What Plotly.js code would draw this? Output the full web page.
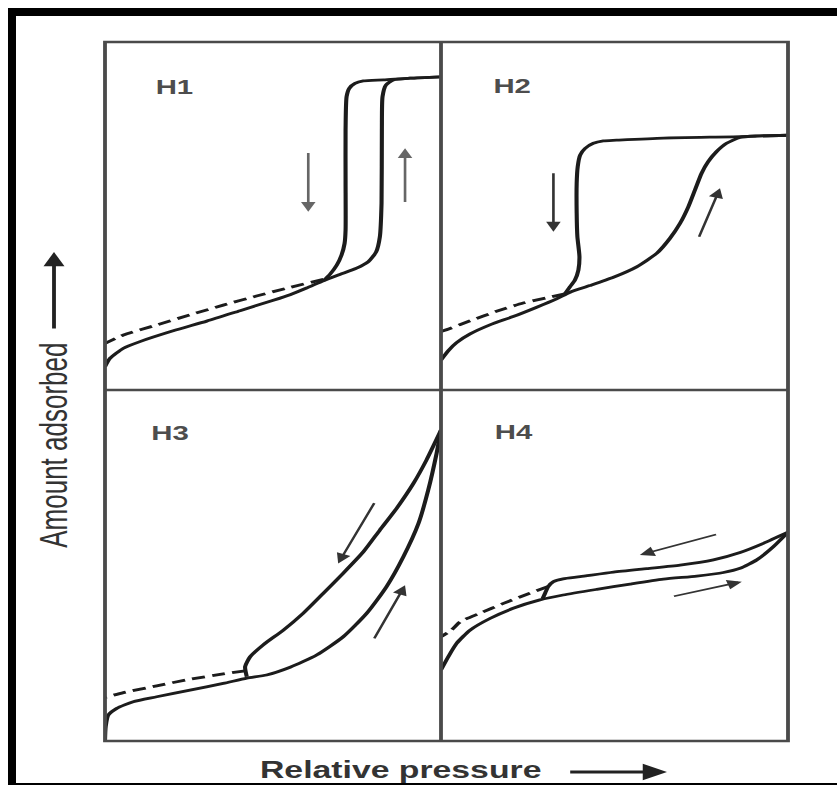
<!DOCTYPE html>
<html>
<head>
<meta charset="utf-8">
<script src="https://cdn.plot.ly/plotly-3.0.1.min.js"></script>
<style>
  html, body { margin: 0; padding: 0; background: #fff; overflow: hidden; width: 837px; height: 785px; }
  /* the figure is laid out on a narrower canvas and widened, giving the broad lettering */
  #chart { width: 570px; height: 785px; transform: scaleX(1.46842); transform-origin: 0 0; }
</style>
</head>
<body>
<div id="chart"></div>
<script>
// Hysteresis loop types H1-H4: relative pressure (0-1) vs. normalised amount adsorbed (0-1)

// H1
const h1AdsX = [0, 0.015, 0.055, 0.104, 0.203, 0.303, 0.402, 0.501, 0.551, 0.600, 0.650, 0.699, 0.749, 0.784, 0.807, 0.818, 0.823, 0.824, 0.826, 0.836, 0.858, 0.908, 1.0];
const h1AdsY = [0.067, 0.091, 0.120, 0.139, 0.170, 0.198, 0.228, 0.258, 0.274, 0.293, 0.314, 0.332, 0.350, 0.369, 0.397, 0.440, 0.536, 0.747, 0.843, 0.876, 0.891, 0.896, 0.900];
const h1DesX = [1.0, 0.908, 0.829, 0.769, 0.744, 0.727, 0.719, 0.716, 0.716, 0.716, 0.713, 0.704, 0.690, 0.670, 0.650];
const h1DesY = [0.900, 0.896, 0.891, 0.888, 0.881, 0.867, 0.843, 0.747, 0.603, 0.460, 0.421, 0.388, 0.359, 0.333, 0.314];
const h1LowX = [0.650, 0.551, 0.451, 0.352, 0.253, 0.154, 0.055, 0];
const h1LowY = [0.318, 0.295, 0.270, 0.244, 0.216, 0.187, 0.158, 0.134];

// H2
const h2AdsX = [0, 0.021, 0.045, 0.084, 0.141, 0.208, 0.276, 0.333, 0.372, 0.429, 0.497, 0.564, 0.622, 0.660, 0.689, 0.713, 0.732, 0.751, 0.770, 0.794, 0.823, 0.862, 0.910, 1.0];
const h2AdsY = [0.086, 0.113, 0.136, 0.161, 0.187, 0.211, 0.238, 0.262, 0.281, 0.300, 0.324, 0.354, 0.393, 0.436, 0.479, 0.527, 0.575, 0.623, 0.656, 0.685, 0.709, 0.726, 0.730, 0.732];
const h2DesX = [1.0, 0.862, 0.641, 0.506, 0.468, 0.439, 0.415, 0.401, 0.394, 0.391, 0.391, 0.393, 0.399, 0.396, 0.386, 0.372, 0.357];
const h2DesY = [0.732, 0.728, 0.724, 0.718, 0.716, 0.709, 0.694, 0.675, 0.642, 0.594, 0.508, 0.441, 0.383, 0.345, 0.316, 0.297, 0.276];
const h2LowX = [0.357, 0.305, 0.237, 0.160, 0.084, 0.026, 0];
const h2LowY = [0.276, 0.265, 0.250, 0.226, 0.199, 0.177, 0.168];

// H3
const h3AdsX = [0, 0.002, 0.010, 0.035, 0.084, 0.154, 0.253, 0.352, 0.422, 0.481, 0.551, 0.630, 0.709, 0.779, 0.838, 0.888, 0.933, 0.962, 0.987, 1.0];
const h3AdsY = [0, 0.041, 0.074, 0.093, 0.112, 0.126, 0.145, 0.164, 0.179, 0.188, 0.210, 0.245, 0.297, 0.364, 0.440, 0.525, 0.620, 0.715, 0.820, 0.886];
const h3DesX = [1.0, 0.957, 0.918, 0.868, 0.818, 0.769, 0.709, 0.650, 0.590, 0.531, 0.471, 0.432, 0.417, 0.422];
const h3DesY = [0.886, 0.801, 0.734, 0.663, 0.601, 0.539, 0.478, 0.421, 0.364, 0.316, 0.274, 0.240, 0.212, 0.183];
const h3LowX = [0.417, 0.352, 0.253, 0.154, 0.055, 0];
const h3LowY = [0.200, 0.191, 0.176, 0.157, 0.138, 0.124];

// H4
const h4AdsX = [0, 0.021, 0.045, 0.084, 0.141, 0.208, 0.285, 0.352, 0.449, 0.545, 0.641, 0.737, 0.814, 0.862, 0.910, 0.958, 1.0];
const h4AdsY = [0.202, 0.240, 0.278, 0.316, 0.349, 0.378, 0.402, 0.416, 0.432, 0.447, 0.461, 0.470, 0.480, 0.492, 0.516, 0.554, 0.595];
const h4DesX = [1.0, 0.929, 0.862, 0.785, 0.689, 0.593, 0.497, 0.401, 0.352, 0.324, 0.309, 0.300, 0.293];
const h4DesY = [0.595, 0.563, 0.537, 0.516, 0.501, 0.491, 0.481, 0.468, 0.462, 0.454, 0.440, 0.421, 0.406];
const h4LowX = [0.309, 0.256, 0.180, 0.112, 0.056, 0.030, 0];
const h4LowY = [0.440, 0.421, 0.392, 0.364, 0.340, 0.316, 0.297];

// direction arrows along the branches: [panel, tailX, tailY, headX, headY]
const branchArrows = [
  [1, 0.605, 0.685, 0.605, 0.512],
  [1, 0.893, 0.536, 0.893, 0.695],
  [2, 0.324, 0.627, 0.324, 0.455],
  [2, 0.742, 0.436, 0.804, 0.580],
  [3, 0.804, 0.682, 0.694, 0.506],
  [3, 0.799, 0.288, 0.893, 0.444],
  [4, 0.799, 0.590, 0.573, 0.530],
  [4, 0.665, 0.411, 0.867, 0.454]
];

const panelNames = ['H1', 'H2', 'H3', 'H4'];
const xTitle = 'Relative pressure';
const yTitle = 'Amount adsorbed';

const FONT = 'Liberation Sans, Arial, Helvetica, sans-serif';
const INK = '#1c1c1c';
const FRAME = '#4a4a4a';

// page-pixel helpers (paper spans the whole 837 x 785 page)
const PX = v => v / 837;
const PY = v => 1 - v / 785;

const colEdges = [PX(105), PX(441), PX(788)];
const rowEdges = [PY(42), PY(390), PY(741)];

function ax(n) { return n === 1 ? '' : String(n); }

function branch(n, x, y, dashed) {
  return {
    type: 'scatter', mode: 'lines', x: x, y: y,
    xaxis: 'x' + ax(n), yaxis: 'y' + ax(n),
    hoverinfo: 'skip', showlegend: false,
    line: { color: INK, width: 2.8, shape: 'spline', smoothing: 0.6, dash: dashed ? '9px,5px' : 'solid' }
  };
}

const data = [
  branch(1, h1AdsX, h1AdsY), branch(1, h1DesX, h1DesY), branch(1, h1LowX, h1LowY, true),
  branch(2, h2AdsX, h2AdsY), branch(2, h2DesX, h2DesY), branch(2, h2LowX, h2LowY, true),
  branch(3, h3AdsX, h3AdsY), branch(3, h3DesX, h3DesY), branch(3, h3LowX, h3LowY, true),
  branch(4, h4AdsX, h4AdsY), branch(4, h4DesX, h4DesY), branch(4, h4LowX, h4LowY, true)
];

const layout = {
  width: 570, height: 785,
  margin: { l: 0, r: 0, t: 0, b: 0, pad: 0 },
  paper_bgcolor: '#ffffff', plot_bgcolor: 'rgba(0,0,0,0)',
  showlegend: false,
  annotations: [],
  shapes: []
};

const hidden = { range: [0, 1], showgrid: false, zeroline: false, showline: false, showticklabels: false, ticks: '', fixedrange: true };
for (let n = 1; n <= 4; n++) {
  const c = (n - 1) % 2, r = n <= 2 ? 0 : 1;
  layout['xaxis' + ax(n)] = Object.assign({}, hidden, { domain: [colEdges[c], colEdges[c + 1]], anchor: 'y' + ax(n) });
  layout['yaxis' + ax(n)] = Object.assign({}, hidden, { domain: [rowEdges[r + 1], rowEdges[r]], anchor: 'x' + ax(n) });
}

// panel box and dividers
layout.shapes.push(
  { type: 'rect', xref: 'paper', yref: 'paper', x0: colEdges[0], x1: colEdges[2], y0: rowEdges[2], y1: rowEdges[0], line: { color: FRAME, width: 2.6 } },
  { type: 'line', xref: 'paper', yref: 'paper', x0: colEdges[1], x1: colEdges[1], y0: rowEdges[2], y1: rowEdges[0], line: { color: FRAME, width: 2.6 } },
  { type: 'line', xref: 'paper', yref: 'paper', x0: colEdges[0], x1: colEdges[2], y0: rowEdges[1], y1: rowEdges[1], line: { color: FRAME, width: 2.6 } }
);

// black outer border (top, left, bottom)
const border = { type: 'rect', xref: 'paper', yref: 'paper', fillcolor: '#000000', line: { width: 0 }, layer: 'above' };
layout.shapes.push(
  Object.assign({}, border, { x0: PX(8), x1: 1, y0: PY(16), y1: PY(8) }),
  Object.assign({}, border, { x0: PX(8), x1: PX(16), y0: 0, y1: PY(8) }),
  Object.assign({}, border, { x0: PX(8), x1: 1, y0: 0, y1: PY(783) })
);

// panel labels
const labelPos = [[152, 87], [491, 86], [149, 433], [492, 432]];
panelNames.forEach((name, i) => {
  layout.annotations.push({
    xref: 'paper', yref: 'paper', x: PX(labelPos[i][0]), y: PY(labelPos[i][1]),
    xanchor: 'left', yanchor: 'middle', showarrow: false,
    text: '<b>' + name + '</b>', font: { family: FONT, size: 20, color: '#4d4d4d' }
  });
});

// branch direction arrows
branchArrows.forEach(a => {
  const n = a[0];
  layout.annotations.push({
    xref: 'x' + ax(n), yref: 'y' + ax(n), axref: 'x' + ax(n), ayref: 'y' + ax(n),
    x: a[3], y: a[4], ax: a[1], ay: a[2], text: '', showarrow: true,
    arrowhead: 2, arrowsize: 1.1, arrowwidth: 1.8, arrowcolor: n === 1 ? '#666666' : '#333333', standoff: 0
  });
});

// axis captions with their arrows
layout.annotations.push(
  { xref: 'paper', yref: 'paper', x: PX(401), y: PY(770), xanchor: 'center', yanchor: 'middle', showarrow: false,
    text: '<b>' + xTitle + '</b>', font: { family: FONT, size: 23, color: '#333333' } },
  { xref: 'paper', yref: 'paper', x: PX(667), y: PY(772), ax: -(667 - 568) / (837 / 570), ay: 0, text: '', showarrow: true,
    arrowhead: 2, arrowsize: 1.1, arrowwidth: 3, arrowcolor: '#222222', standoff: 0 },
  { xref: 'paper', yref: 'paper', x: PX(54), y: PY(445), xanchor: 'center', yanchor: 'middle', showarrow: false, textangle: -90,
    text: yTitle, font: { family: FONT, size: 26, color: '#333333' } },
  { xref: 'paper', yref: 'paper', x: PX(54), y: PY(252), ax: 0, ay: 78, text: '', showarrow: true,
    arrowhead: 2, arrowsize: 1.1, arrowwidth: 2.6, arrowcolor: '#222222', standoff: 0 }
);

Plotly.newPlot('chart', data, layout, { staticPlot: true, displayModeBar: false });
</script>
</body>
</html>
